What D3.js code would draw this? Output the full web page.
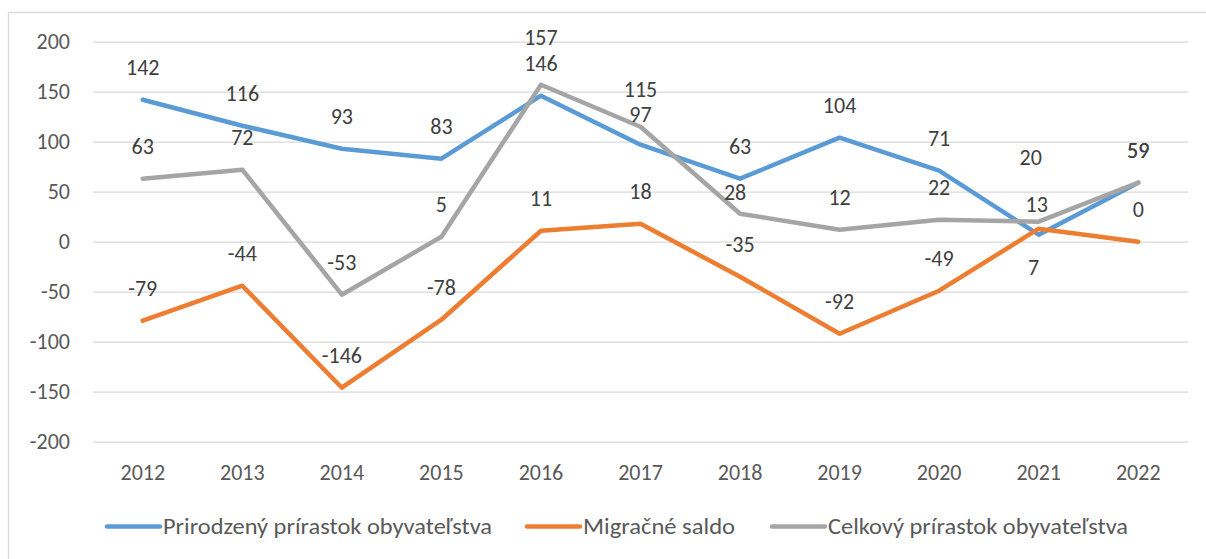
<!DOCTYPE html>
<html>
<head>
<meta charset="utf-8">
<script src="https://cdn.jsdelivr.net/npm/d3@7"></script>
<style>
  body { margin: 0; background: #fff; }
  text { font-family: Carlito, Lato, "Open Sans", sans-serif; }
</style>
</head>
<body>
<div id="chart"></div>
<script>
// data
var years = ["2012", "2013", "2014", "2015", "2016", "2017", "2018", "2019", "2020", "2021", "2022"];
var prirodzeny = [142, 116, 93, 83, 146, 97, 63, 104, 71, 7, 59];
var migracne = [-79, -44, -146, -78, 11, 18, -35, -92, -49, 13, 0];
var celkovy = [63, 72, -53, 5, 157, 115, 28, 12, 22, 20, 59];
var yTicks = [-200, -150, -100, -50, 0, 50, 100, 150, 200];
var seriesNames = ["Prirodzený prírastok obyvateľstva", "Migračné saldo", "Celkový prírastok obyvateľstva"];

var colors = ["#5b9bd5", "#ed7d31", "#a5a5a5"];

// labels that were moved by hand in the original (series index, year) -> [dx, dy]
var labelNudge = {
    "2|2016": [0, -15],
    "2|2017": [0, -5],
    "0|2017": [0, 2],
    "2|2018": [-5, 11],
    "2|2021": [-8, -32],
    "1|2021": [-2, 8],
    "0|2021": [-5, 65]
};

var svgWidth = 1206;
var svgHeight = 559;
var margins = { top: 41.7, bottom: 117.3, left: 93, right: 18 };

var svg = d3.select("#chart")
    .append("svg")
    .attr("width", svgWidth)
    .attr("height", svgHeight);

// outer chart frame (only top and left edges are visible)
svg.append("rect")
    .attr("x", 8.5)
    .attr("y", 12.5)
    .attr("width", 1300)
    .attr("height", 700)
    .attr("fill", "none")
    .attr("stroke", "#d9d9d9")
    .attr("stroke-width", 1.3);

var width = svgWidth - margins.left - margins.right;
var height = svgHeight - margins.top - margins.bottom;

var xScale = d3.scaleBand()
    .domain(years)
    .range([margins.left, margins.left + width]);

var yScale = d3.scaleLinear()
    .domain([-200, 200])
    .range([margins.top + height, margins.top]);

var cx = d => xScale(d) + xScale.bandwidth() / 2;

// y axis + gridlines
var yAxis = svg.append("g")
    .attr("transform", `translate(${margins.left},0)`)
    .call(d3.axisLeft(yScale).tickValues(yTicks).tickFormat(d => String(d)).tickSize(-width).tickPadding(23));
yAxis.select(".domain").remove();
yAxis.selectAll("line").attr("stroke", "#d9d9d9").attr("stroke-width", 1.3);
yAxis.selectAll("text")
    .attr("fill", "#595959")
    .style("font-size", "22px");

// x axis
var xAxis = svg.append("g")
    .attr("transform", `translate(0,${yScale(-200)})`)
    .call(d3.axisBottom(xScale).tickSize(0).tickPadding(23));
xAxis.select(".domain").remove();
xAxis.selectAll("text")
    .attr("fill", "#595959")
    .style("font-size", "22px");

var allSeries = [prirodzeny, migracne, celkovy];

var line = d3.line()
    .x((d, i) => cx(years[i]))
    .y(d => yScale(d));

allSeries.forEach(function(values, s) {
    svg.append("path")
        .datum(values)
        .attr("d", line)
        .attr("fill", "none")
        .attr("stroke", colors[s])
        .attr("stroke-width", 4.5)
        .attr("stroke-linejoin", "round")
        .attr("stroke-linecap", "round");
});

// data labels
allSeries.forEach(function(values, s) {
    svg.append("g").selectAll("text")
        .data(values)
        .enter()
        .append("text")
        .attr("x", (d, i) => cx(years[i]) + (labelNudge[s + "|" + years[i]] || [0, 0])[0])
        .attr("y", (d, i) => yScale(d) - 25 + (labelNudge[s + "|" + years[i]] || [0, 0])[1])
        .attr("text-anchor", "middle")
        .attr("fill", "#404040")
        .style("font-size", "22px")
        .text(d => d);
});

// legend
var legendX = [107, 527, 772];
var legendTextW = [329, 152, 300];
var legend = svg.append("g");
seriesNames.forEach(function(name, s) {
    legend.append("line")
        .attr("x1", legendX[s])
        .attr("x2", legendX[s] + 53)
        .attr("y1", 526.5)
        .attr("y2", 526.5)
        .attr("stroke", colors[s])
        .attr("stroke-width", 4.5)
        .attr("stroke-linecap", "round");
    legend.append("text")
        .attr("x", legendX[s] + 56)
        .attr("y", 534)
        .attr("fill", "#595959")
        .attr("textLength", legendTextW[s])
        .attr("lengthAdjust", "spacingAndGlyphs")
        .style("font-size", "22px")
        .text(name);
});
</script>
</body>
</html>
